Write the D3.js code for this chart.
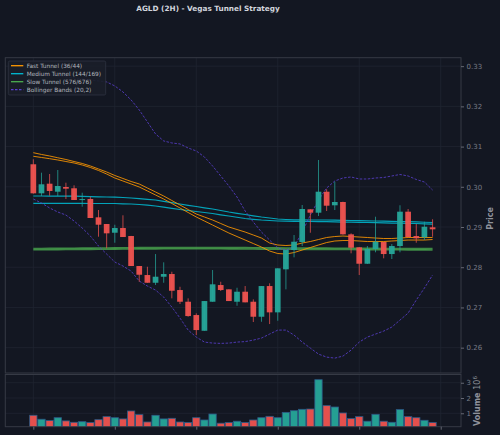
<!DOCTYPE html>
<html><head><meta charset="utf-8">
<script src="https://cdn.jsdelivr.net/npm/d3@7"></script>
<style>html,body{margin:0;padding:0;background:#131722;}svg{display:block;}</style>
</head><body>
<script>
const title = "AGLD (2H) - Vegas Tunnel Strategy";
const openP  = [0.30560,0.29838,0.30077,0.29878,0.29995,0.29963,0.29680,0.29697,0.29241,0.29075,0.28858,0.28975,0.28776,0.28030,0.27806,0.27614,0.27764,0.27831,0.27433,0.27142,0.26811,0.26420,0.27142,0.27557,0.27450,0.27142,0.27391,0.27142,0.26769,0.27532,0.26878,0.27948,0.28428,0.28627,0.29440,0.29356,0.29878,0.29540,0.29622,0.28818,0.28495,0.28087,0.28453,0.28627,0.28328,0.28527,0.29381,0.28776,0.28744,0.28993];
const highP  = [0.30684,0.30351,0.30318,0.30418,0.30102,0.30037,0.29853,0.29754,0.29423,0.29075,0.29057,0.29291,0.28780,0.28030,0.28012,0.28328,0.28122,0.27888,0.27515,0.27226,0.26853,0.27159,0.27930,0.27639,0.27450,0.27490,0.27532,0.27201,0.27532,0.27600,0.27973,0.28428,0.28801,0.29547,0.29440,0.30667,0.29938,0.30127,0.29630,0.28843,0.28500,0.28527,0.29256,0.28630,0.28577,0.29540,0.29448,0.29075,0.29132,0.29192];
const lowP   = [0.29830,0.29771,0.29779,0.29771,0.29697,0.29672,0.29505,0.29224,0.28759,0.28470,0.28609,0.28751,0.28030,0.27639,0.27614,0.27557,0.27614,0.27226,0.27085,0.26769,0.26313,0.26420,0.27142,0.27408,0.27159,0.27042,0.27127,0.26637,0.26644,0.26587,0.26669,0.27450,0.28246,0.28527,0.28858,0.29274,0.29398,0.29423,0.28810,0.28346,0.27806,0.28080,0.28371,0.28221,0.28204,0.28371,0.28750,0.28609,0.28677,0.28759];
const closeP = [0.29838,0.30062,0.29896,0.30020,0.29953,0.29672,0.29695,0.29224,0.29057,0.28843,0.28975,0.28751,0.28030,0.27813,0.27614,0.27764,0.27831,0.27415,0.27142,0.26786,0.26438,0.27159,0.27575,0.27433,0.27159,0.27391,0.27127,0.26769,0.27532,0.26878,0.27973,0.28428,0.28634,0.29448,0.29356,0.29878,0.29530,0.29622,0.28818,0.28485,0.28087,0.28453,0.28634,0.28328,0.28527,0.29381,0.28751,0.28719,0.29007,0.28943];
const volumeM = [0.87,0.61,0.52,0.71,0.50,0.41,0.45,0.39,0.58,0.78,0.71,0.63,1.15,0.91,0.43,0.87,0.63,0.67,0.43,0.39,0.71,0.56,0.95,0.35,0.39,0.48,0.39,0.56,0.71,0.80,0.71,1.06,1.17,1.26,1.28,3.20,1.50,1.41,1.02,0.65,0.78,0.48,0.93,0.48,0.41,1.24,0.78,0.71,0.54,0.39];
const fastA = [0.30848,0.30804,0.30766,0.30722,0.30679,0.30629,0.30580,0.30518,0.30443,0.30368,0.30281,0.30207,0.30132,0.30070,0.29970,0.29871,0.29771,0.29659,0.29547,0.29435,0.29323,0.29249,0.29174,0.29087,0.29000,0.28938,0.28875,0.28801,0.28726,0.28602,0.28552,0.28540,0.28552,0.28602,0.28639,0.28689,0.28739,0.28763,0.28776,0.28763,0.28751,0.28739,0.28726,0.28714,0.28714,0.28726,0.28739,0.28739,0.28739,0.28739];
const fastB = [0.30759,0.30729,0.30699,0.30667,0.30629,0.30592,0.30542,0.30480,0.30406,0.30318,0.30219,0.30144,0.30070,0.29995,0.29896,0.29796,0.29696,0.29585,0.29473,0.29361,0.29249,0.29149,0.29050,0.28950,0.28851,0.28763,0.28676,0.28589,0.28502,0.28403,0.28341,0.28328,0.28365,0.28428,0.28490,0.28552,0.28614,0.28652,0.28664,0.28664,0.28652,0.28639,0.28639,0.28639,0.28652,0.28664,0.28676,0.28676,0.28676,0.28689];
const medA = [0.29771,0.29771,0.29769,0.29769,0.29766,0.29766,0.29761,0.29756,0.29751,0.29746,0.29741,0.29734,0.29721,0.29706,0.29689,0.29672,0.29639,0.29607,0.29572,0.29540,0.29510,0.29478,0.29448,0.29411,0.29373,0.29341,0.29311,0.29279,0.29249,0.29224,0.29199,0.29187,0.29179,0.29177,0.29174,0.29174,0.29174,0.29172,0.29167,0.29162,0.29157,0.29154,0.29149,0.29147,0.29142,0.29137,0.29132,0.29127,0.29119,0.29112];
const medB = [0.29589,0.29589,0.29589,0.29587,0.29587,0.29587,0.29587,0.29585,0.29585,0.29585,0.29585,0.29577,0.29572,0.29560,0.29542,0.29522,0.29493,0.29465,0.29435,0.29410,0.29385,0.29361,0.29336,0.29304,0.29274,0.29242,0.29212,0.29192,0.29174,0.29162,0.29149,0.29144,0.29142,0.29139,0.29137,0.29134,0.29132,0.29129,0.29124,0.29122,0.29117,0.29112,0.29107,0.29104,0.29099,0.29097,0.29092,0.29087,0.29079,0.29074];
const slowA = [0.28465,0.28467,0.28468,0.28470,0.28471,0.28472,0.28474,0.28476,0.28478,0.28480,0.28482,0.28484,0.28486,0.28488,0.28489,0.28490,0.28491,0.28491,0.28492,0.28492,0.28492,0.28492,0.28491,0.28491,0.28490,0.28490,0.28488,0.28486,0.28484,0.28483,0.28482,0.28480,0.28479,0.28477,0.28476,0.28475,0.28474,0.28473,0.28472,0.28471,0.28470,0.28469,0.28468,0.28467,0.28466,0.28465,0.28464,0.28463,0.28463,0.28462];
const slowB = [0.28433,0.28435,0.28436,0.28438,0.28439,0.28440,0.28442,0.28444,0.28446,0.28448,0.28450,0.28452,0.28454,0.28456,0.28457,0.28457,0.28458,0.28459,0.28460,0.28460,0.28460,0.28460,0.28459,0.28458,0.28457,0.28457,0.28455,0.28453,0.28451,0.28450,0.28450,0.28448,0.28447,0.28445,0.28444,0.28443,0.28442,0.28441,0.28440,0.28439,0.28438,0.28437,0.28436,0.28435,0.28434,0.28433,0.28432,0.28431,0.28431,0.28430];
const bbUpper = [0.32806,0.32794,0.32782,0.32757,0.32732,0.32707,0.32682,0.32657,0.32632,0.32607,0.32508,0.32359,0.32160,0.31911,0.31612,0.31314,0.31140,0.31090,0.31065,0.30965,0.30891,0.30741,0.30518,0.30269,0.30020,0.29746,0.29398,0.29124,0.28875,0.28676,0.28477,0.28428,0.28502,0.28875,0.29298,0.29672,0.29970,0.30144,0.30219,0.30244,0.30194,0.30194,0.30219,0.30231,0.30269,0.30306,0.30269,0.30182,0.30119,0.29920];
const bbLower = [0.29696,0.29597,0.29473,0.29373,0.29298,0.29149,0.28975,0.28776,0.28527,0.28328,0.28129,0.28030,0.27905,0.27656,0.27532,0.27432,0.27258,0.27009,0.26736,0.26437,0.26263,0.26139,0.26114,0.26106,0.26114,0.26139,0.26151,0.26188,0.26238,0.26338,0.26437,0.26437,0.26313,0.26139,0.25989,0.25840,0.25765,0.25740,0.25790,0.25940,0.26139,0.26263,0.26338,0.26412,0.26512,0.26686,0.26860,0.27184,0.27482,0.27806];
const priceTicks = [0.26,0.27,0.28,0.29,0.30,0.31,0.32,0.33];
const volTicks = [1,2,3];
const xTicks = [0,10,20,30,40,50];
const legendLabels = ["Fast Tunnel (36/44)","Medium Tunnel (144/169)","Slow Tunnel (576/676)","Bollinger Bands (20,2)"];

const W=500,H=435;
const UP="#26a69a", DN="#ef5350";
const svg=d3.select("body").append("svg").attr("width",W).attr("height",H);
svg.append("rect").attr("width",W).attr("height",H).attr("fill","#131722");

const L=5.3,R=461;
const pT=57.7,pB=373, vT=374.5,vB=426.7;
const x=d3.scaleLinear().domain([-3.44,52.49]).range([L,R]);
const y=d3.scaleLinear().domain([0.2537,0.3321]).range([pB,pT]);
const yv=d3.scaleLinear().domain([0.12,3.54]).range([vB,vT]);
const step=x(1)-x(0);
const idx=d3.range(openP.length);
const gridC="#1f2431", frameC="#363a45", tickC="#787b86";

const defs=svg.append("defs");
defs.append("clipPath").attr("id","cp").append("rect").attr("x",L).attr("y",pT).attr("width",R-L).attr("height",pB-pT);
defs.append("clipPath").attr("id","cv").append("rect").attr("x",L).attr("y",vT).attr("width",R-L).attr("height",vB-vT);

// grids
const gp=svg.append("g");
gp.selectAll(".hx").data(priceTicks).join("line").attr("x1",L).attr("x2",R).attr("y1",d=>y(d)).attr("y2",d=>y(d)).attr("stroke",gridC).attr("stroke-width",0.8);
gp.selectAll(".vx").data(xTicks).join("line").attr("x1",d=>x(d)).attr("x2",d=>x(d)).attr("y1",pT).attr("y2",pB).attr("stroke",gridC).attr("stroke-width",0.8);
const gv=svg.append("g");
gv.selectAll("line.h").data(volTicks).join("line").attr("class","h").attr("x1",L).attr("x2",R).attr("y1",d=>yv(d)).attr("y2",d=>yv(d)).attr("stroke",gridC).attr("stroke-width",0.8);
gv.selectAll("line.v").data(xTicks).join("line").attr("class","v").attr("x1",d=>x(d)).attr("x2",d=>x(d)).attr("y1",vT).attr("y2",vB).attr("stroke",gridC).attr("stroke-width",0.8);

// price layers
const pg=svg.append("g").attr("clip-path","url(#cp)");
function drawLine(arr,color,w,op,dash){
  const ln=d3.line().x((d,i)=>x(i)).y(d=>y(d));
  const p=pg.append("path").attr("d",ln(arr)).attr("fill","none").attr("stroke",color).attr("stroke-width",w).attr("stroke-opacity",op);
  if(dash) p.attr("stroke-dasharray",dash);
}
drawLine(slowA,"#4caf50",1.6,0.75);
drawLine(slowB,"#4caf50",1.6,0.75);
drawLine(medA,"#00bcd4",1.2,0.85);
drawLine(medB,"#00bcd4",1.2,0.85);
drawLine(fastA,"#ff9800",1.0,0.85);
drawLine(fastB,"#ff9800",1.0,0.85);
drawLine(bbUpper,"#5a3fd0",0.9,0.9,"2.5,1.5");
drawLine(bbLower,"#5a3fd0",0.9,0.9,"2.5,1.5");

const cw=step*0.7;
const cg=pg.append("g");
cg.selectAll("line.w").data(idx).join("line").attr("class","w")
  .attr("x1",i=>x(i)).attr("x2",i=>x(i)).attr("y1",i=>y(highP[i])).attr("y2",i=>y(lowP[i]))
  .attr("stroke",i=>closeP[i]>=openP[i]?UP:DN).attr("stroke-width",1).attr("stroke-opacity",0.75);
cg.selectAll("rect.b").data(idx).join("rect").attr("class","b")
  .attr("x",i=>x(i)-cw/2).attr("width",cw)
  .attr("y",i=>y(Math.max(openP[i],closeP[i])))
  .attr("height",i=>Math.max(1,Math.abs(y(openP[i])-y(closeP[i]))))
  .attr("fill",i=>closeP[i]>=openP[i]?UP:DN).attr("fill-opacity",0.95);

// volume
const vg=svg.append("g").attr("clip-path","url(#cv)");
const bw=step*0.9;
vg.selectAll("rect").data(idx).join("rect")
  .attr("x",i=>x(i)-bw/2).attr("width",bw)
  .attr("y",i=>yv(volumeM[i])).attr("height",i=>yv(0)-yv(volumeM[i]))
  .attr("fill",i=>closeP[i]>=openP[i]?UP:DN).attr("fill-opacity",0.95)
  .attr("stroke","#2b5a86").attr("stroke-width",0.8);

// frames
svg.append("rect").attr("x",L).attr("y",pT).attr("width",R-L).attr("height",pB-pT).attr("fill","none").attr("stroke",frameC).attr("stroke-width",1);
svg.append("rect").attr("x",L).attr("y",vT).attr("width",R-L).attr("height",vB-vT).attr("fill","none").attr("stroke",frameC).attr("stroke-width",1);

// axes
const fontF="DejaVu Sans, sans-serif";
const ay=svg.append("g").attr("transform",`translate(${R},0)`).call(d3.axisRight(y).tickValues(priceTicks).tickFormat(d3.format(".2f")).tickSize(3).tickPadding(2.5));
const av=svg.append("g").attr("transform",`translate(${R},0)`).call(d3.axisRight(yv).tickValues(volTicks).tickFormat(d3.format("d")).tickSize(3).tickPadding(2.5));
const ax=svg.append("g").attr("transform",`translate(0,${vB})`).call(d3.axisBottom(x).tickValues(xTicks).tickFormat("").tickSize(3));
[ay,av,ax].forEach(g=>{
  g.select(".domain").remove();
  g.selectAll("line").attr("stroke",tickC).attr("stroke-width",0.8);
  g.selectAll("text").attr("fill",tickC).attr("font-size",7).attr("font-family",fontF);
});

// labels
svg.append("text").attr("x",208).attr("y",11.3).attr("text-anchor","middle").attr("fill","#d1d4dc")
  .attr("font-size",7.3).attr("font-weight","bold").attr("font-family",fontF).text(title);
svg.append("text").attr("transform",`translate(493,218.5) rotate(-90)`).attr("text-anchor","middle").attr("fill","#8f929b")
  .attr("font-size",8).attr("font-weight","bold").attr("font-family",fontF).text("Price");
const vt=svg.append("text").attr("transform",`translate(480,401) rotate(-90)`).attr("text-anchor","middle").attr("fill","#8f929b")
  .attr("font-size",8).attr("font-weight","bold").attr("font-family",fontF);
vt.append("tspan").text("Volume ");
vt.append("tspan").attr("font-weight","normal").text("10");
vt.append("tspan").attr("font-weight","normal").attr("font-size",5.5).attr("dy",-3).text("6");

// legend
const lg=svg.append("g");
lg.append("rect").attr("x",8.3).attr("y",61).attr("width",97.4).attr("height",34).attr("rx",1.5)
  .attr("fill","#1a1e29").attr("fill-opacity",0.92).attr("stroke","#2f3341").attr("stroke-width",0.8);
const legColors=["#ff9800","#00bcd4","#4caf50","#5a3fd0"];
legendLabels.forEach((t,k)=>{
  const yy=65.7+k*8;
  const l=lg.append("line").attr("x1",11).attr("x2",23.3).attr("y1",yy).attr("y2",yy).attr("stroke",legColors[k]).attr("stroke-width",1.3);
  if(k===3) l.attr("stroke-dasharray","2.5,1.5");
  lg.append("text").attr("x",26.7).attr("y",yy+2).attr("fill","#b2b5be").attr("font-size",5.8).attr("font-family",fontF).text(t);
});
</script>
</body></html>
